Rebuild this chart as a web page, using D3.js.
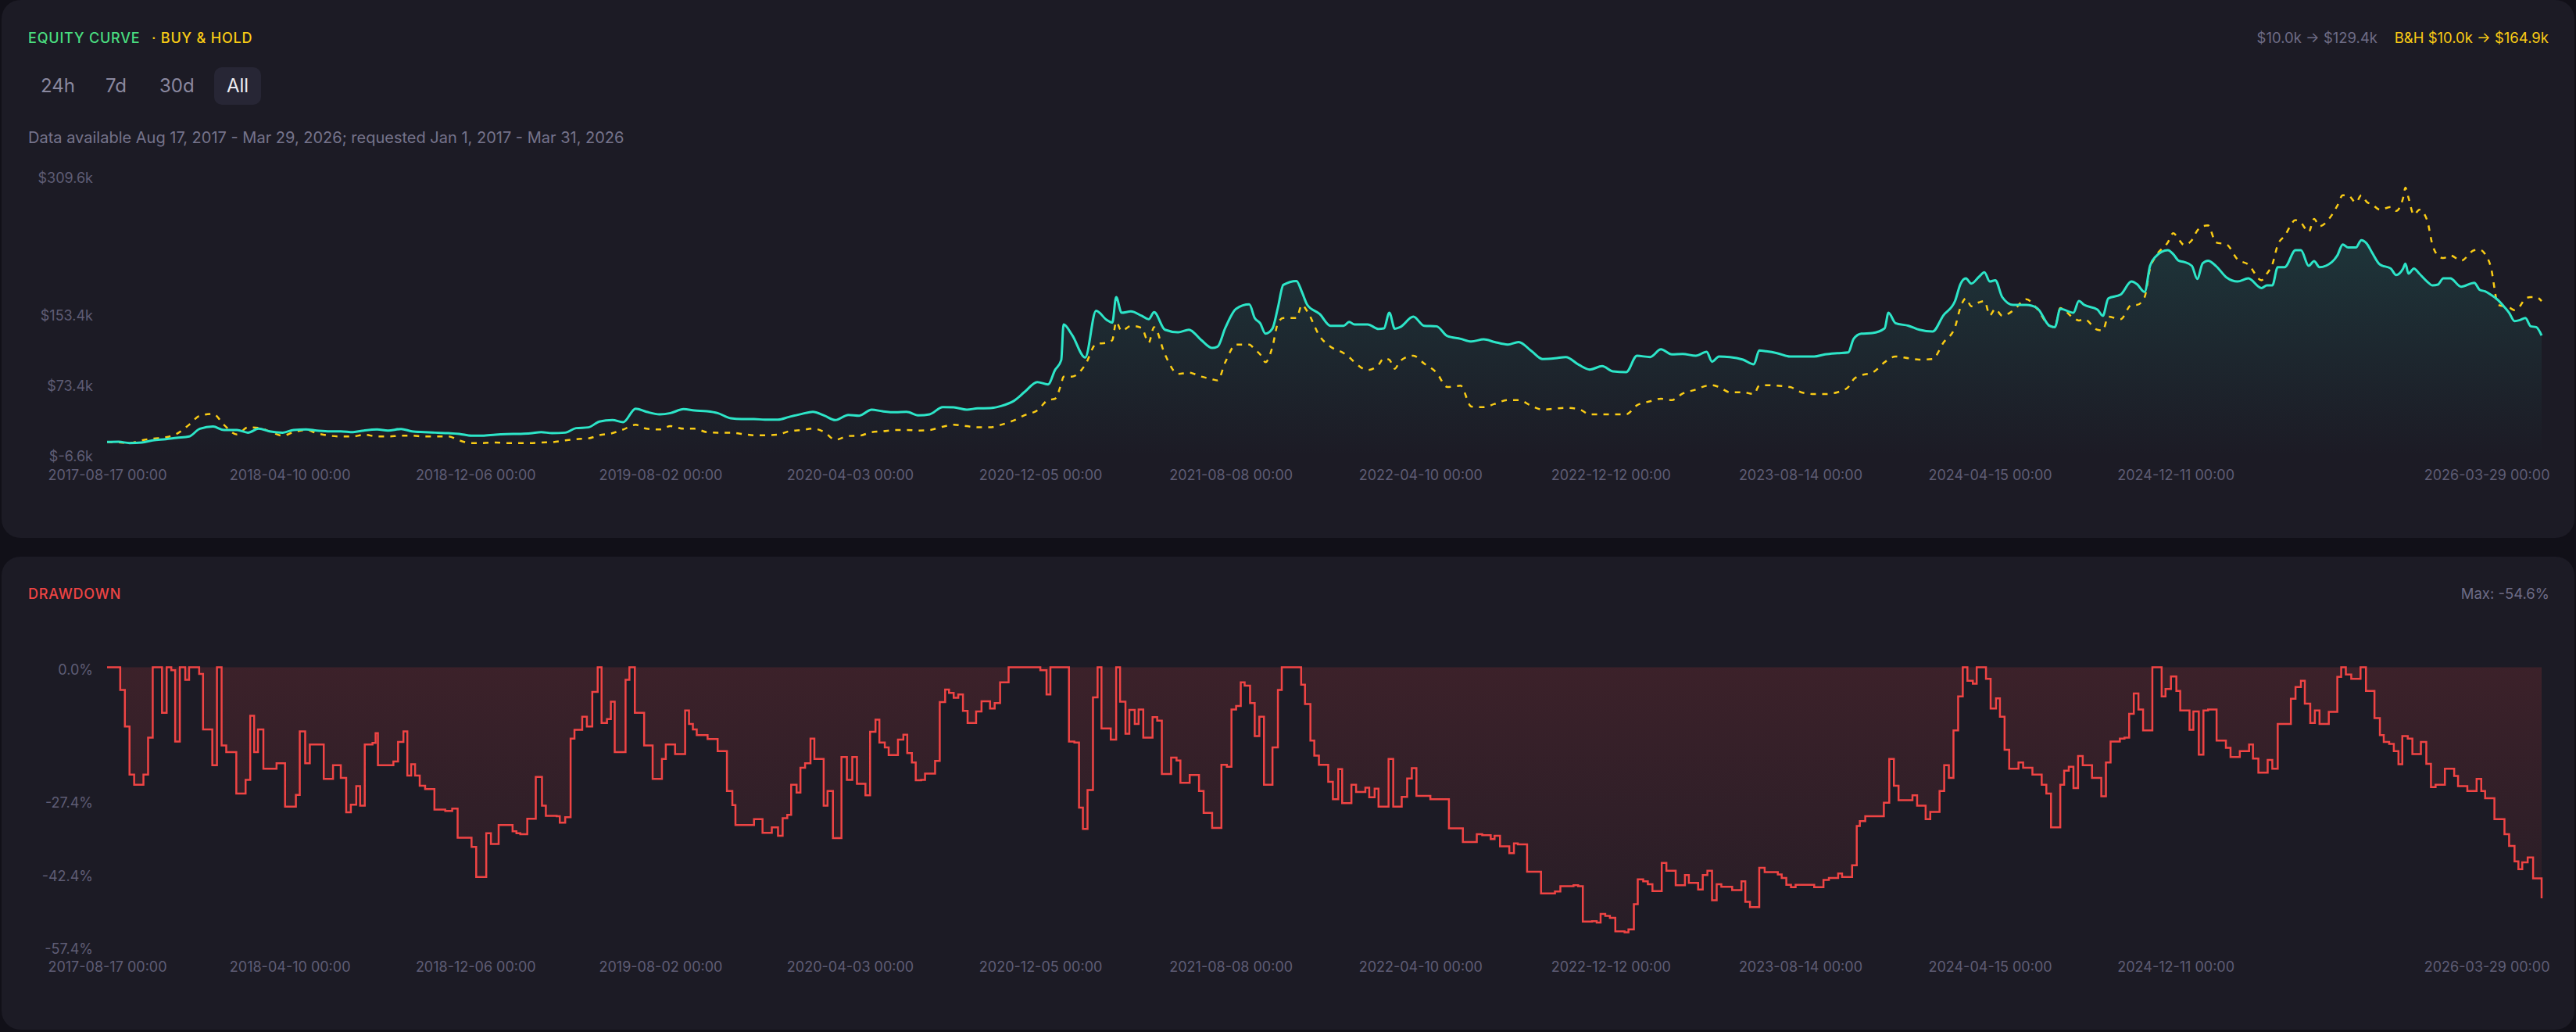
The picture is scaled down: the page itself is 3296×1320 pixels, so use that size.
<!DOCTYPE html>
<html>
<head>
<meta charset="utf-8">
<script src="https://cdn.jsdelivr.net/npm/d3@7"></script>
<style>
  html, body { margin: 0; padding: 0; background: #111018; }
  body { width: 3296px; height: 1320px; overflow: hidden; }
  text { font-family: Inter, "Noto Sans", sans-serif; }
</style>
</head>
<body>
<div id="wrapper"></div>
<script>
// equity curve samples (values in $k)
const equityDates = [
  "2017-08-17","2017-09-01","2017-09-15","2017-10-01","2017-10-15","2017-11-01","2017-11-15","2017-12-01","2017-12-15",
  "2018-01-01","2018-01-15","2018-02-01","2018-02-15","2018-03-01","2018-03-15","2018-04-01","2018-04-15","2018-05-01","2018-05-15","2018-06-01","2018-06-15",
  "2018-07-01","2018-07-15","2018-08-01","2018-08-15","2018-09-01","2018-09-15","2018-10-01","2018-10-15","2018-11-01","2018-11-15","2018-12-01","2018-12-15",
  "2019-01-01","2019-01-15","2019-02-01","2019-02-15","2019-03-01","2019-03-15","2019-04-01","2019-04-15","2019-05-01","2019-05-15","2019-06-01","2019-06-15",
  "2019-07-01","2019-07-15","2019-08-01","2019-08-15","2019-09-01","2019-09-15","2019-10-01","2019-10-15","2019-11-01","2019-11-15","2019-12-01","2019-12-15",
  "2020-01-01","2020-01-15","2020-02-01","2020-02-15","2020-03-01","2020-03-15","2020-04-01","2020-04-15","2020-05-01","2020-05-15","2020-06-01","2020-06-15",
  "2020-07-01","2020-07-15","2020-08-01","2020-08-15","2020-09-01","2020-09-15","2020-10-01","2020-10-15","2020-11-01","2020-11-15","2020-12-01","2020-12-15","2020-12-24",
  "2021-01-01","2021-01-04","2021-01-15","2021-02-01","2021-02-15","2021-03-01","2021-03-08","2021-03-13","2021-03-20","2021-04-01","2021-04-15","2021-04-24",
  "2021-05-01","2021-05-15","2021-06-01","2021-06-15","2021-07-01","2021-07-15","2021-07-22","2021-08-01","2021-08-15","2021-09-01","2021-09-08","2021-09-15",
  "2021-09-22","2021-10-01","2021-10-08","2021-10-15","2021-11-01","2021-11-08","2021-11-15","2021-12-01","2021-12-15",
  "2022-01-01","2022-01-08","2022-01-15","2022-02-01","2022-02-15","2022-02-22","2022-03-01","2022-03-08","2022-03-15","2022-04-01","2022-04-15","2022-05-01",
  "2022-05-15","2022-06-01","2022-06-15","2022-07-01","2022-07-15","2022-08-01","2022-08-15","2022-09-01","2022-09-15","2022-10-01","2022-10-15","2022-11-01",
  "2022-11-15","2022-12-01","2022-12-15",
  "2023-01-01","2023-01-15","2023-02-01","2023-02-15","2023-03-01","2023-03-15","2023-04-01","2023-04-15","2023-04-22","2023-05-01","2023-05-15","2023-06-01",
  "2023-06-15","2023-06-22","2023-07-01","2023-07-15","2023-08-01","2023-08-15","2023-09-01","2023-09-15","2023-10-01","2023-10-15","2023-10-22","2023-11-01",
  "2023-11-15","2023-12-01","2023-12-06","2023-12-15",
  "2024-01-01","2024-01-15","2024-02-01","2024-02-15","2024-03-01","2024-03-08","2024-03-15","2024-03-22","2024-04-01","2024-04-08","2024-04-15","2024-04-22",
  "2024-05-01","2024-05-15","2024-06-01","2024-06-15","2024-07-01","2024-07-08","2024-07-15","2024-08-01","2024-08-08","2024-08-15","2024-09-01","2024-09-08",
  "2024-09-15","2024-10-01","2024-10-15","2024-10-22","2024-11-01","2024-11-08","2024-11-15","2024-12-01","2024-12-08","2024-12-15","2024-12-22",
  "2025-01-01","2025-01-08","2025-01-15","2025-01-22","2025-02-01","2025-02-15","2025-03-01","2025-03-15","2025-04-01","2025-04-08","2025-04-15","2025-04-22",
  "2025-05-01","2025-05-15","2025-05-22","2025-06-01","2025-06-08","2025-06-15","2025-07-01","2025-07-08","2025-07-15","2025-07-22","2025-08-01","2025-08-08",
  "2025-08-15","2025-08-22","2025-09-01","2025-09-15","2025-09-22","2025-10-01","2025-10-04","2025-10-08","2025-10-15","2025-10-22","2025-11-01","2025-11-08",
  "2025-11-15","2025-11-22","2025-12-01","2025-12-15",
  "2026-01-01","2026-01-08","2026-01-15","2026-01-22","2026-02-01","2026-02-08","2026-02-15","2026-02-22","2026-03-01","2026-03-08","2026-03-15","2026-03-22","2026-03-29"
]

const strategyValues = [
  10.0, 10.2, 8.8, 9.4, 11.8, 13.2, 14.7, 16.2, 25.1,
  27.5, 23.6, 23.6, 20.6, 25.1, 22.1, 20.6, 23.6, 24.2, 23.0, 22.1, 22.1,
  21.2, 23.0, 24.2, 23.0, 24.8, 22.1, 21.2, 20.6, 20.0, 19.2, 17.1, 17.1,
  18.3, 18.9, 19.2, 19.8, 21.2, 20.0, 20.6, 25.7, 26.6, 33.1, 34.9, 32.5,
  47.9, 44.3, 41.4, 42.8, 47.3, 45.8, 44.9, 42.8, 36.9, 36.0, 36.0, 35.4,
  35.4, 38.4, 41.9, 44.3, 39.9, 34.9, 40.8, 39.9, 46.7, 44.9, 43.7, 44.3,
  40.2, 41.4, 49.6, 49.4, 46.7, 48.2, 48.5, 50.8, 56.8, 67.1, 78.1, 75.4, 91.7,
  103.0, 143.5, 131.6, 105.9, 159.0, 148.5, 145.6, 174.6, 156.8, 158.3, 153.3, 149.4,
  157.4, 137.5, 134.6, 137.5, 125.7, 116.8, 118.3, 139.6, 161.3, 166.3, 150.9, 145.0,
  133.1, 139.0, 162.8, 188.5, 192.9, 180.5, 165.7, 155.4, 142.0,
  142.0, 146.4, 143.5, 143.5, 138.4, 139.0, 156.8, 138.7, 140.5, 152.4, 142.0, 141.4,
  130.2, 127.2, 124.2, 126.6, 123.6, 120.7, 123.6, 113.0, 104.2, 105.0, 106.5, 97.6,
  92.3, 96.1, 90.2,
  89.3, 107.9, 106.5, 115.3, 109.5, 110.0, 107.9, 112.4, 101.2, 107.1, 106.5, 103.5,
  98.2, 113.9, 113.0, 110.9, 107.1, 107.1, 107.1, 109.5, 110.9, 111.8, 127.2, 133.1,
  133.7, 139.0, 156.8, 145.0,
  142.0, 137.5, 135.5, 153.9, 170.1, 189.4, 195.9, 190.0, 197.7, 202.7, 192.3, 193.8,
  174.6, 165.7, 165.7, 162.2, 142.0, 140.5, 161.3, 156.8, 170.1, 165.7, 160.4, 153.3,
  173.1, 177.5, 192.3, 189.4, 180.5, 210.1, 220.4, 227.9, 223.4, 216.0, 214.5,
  210.1, 195.3, 213.0, 216.0, 210.1, 196.8, 192.3, 195.9, 184.9, 187.9, 187.9, 208.6,
  208.6, 227.9, 227.9, 210.1, 215.4, 208.6, 214.5, 221.9, 234.4, 230.9, 230.9, 239.2,
  235.4, 225.0, 211.6, 207.1, 199.7, 207.1, 212.5, 201.2, 207.1, 201.2, 192.3, 187.9,
  188.8, 195.9, 195.9, 186.4,
  190.8, 182.8, 181.1, 177.5, 171.0, 164.2, 156.8, 147.3, 148.5, 150.9, 141.4, 140.5, 131.0
]

const buyHoldValues = [
  10.0, 9.6, 8.8, 11.8, 13.8, 15.3, 19.2, 29.5, 39.9,
  42.0, 29.5, 18.5, 26.6, 26.0, 22.1, 17.1, 21.2, 23.6, 20.0, 17.1, 16.2,
  16.2, 18.3, 16.2, 16.2, 17.1, 17.1, 16.2, 16.2, 16.2, 11.8, 8.8, 8.8,
  9.4, 8.8, 8.8, 8.8, 9.4, 9.7, 11.8, 13.2, 14.1, 17.7, 20.0, 24.2,
  29.5, 25.1, 24.2, 28.0, 25.1, 25.1, 21.2, 20.6, 20.6, 19.2, 17.7, 17.7,
  18.3, 22.1, 23.6, 25.1, 21.2, 12.4, 16.8, 17.1, 21.2, 22.1, 23.6, 23.6,
  23.0, 23.6, 27.4, 29.5, 28.0, 26.6, 26.6, 29.5, 34.6, 40.5, 45.8, 57.6, 59.1,
  76.0, 84.3, 84.3, 97.6, 121.3, 122.8, 125.7, 146.4, 136.0, 142.0, 139.6, 122.8,
  140.5, 109.5, 87.3, 88.7, 84.3, 81.3, 79.9, 100.6, 120.7, 120.7, 115.3, 109.5,
  100.6, 118.3, 145.0, 150.9, 150.9, 165.7, 158.3, 130.2, 118.3,
  110.9, 106.5, 100.6, 91.7, 97.6, 105.0, 103.5, 93.2, 102.0, 108.0, 99.1, 88.7,
  72.4, 73.9, 50.2, 49.6, 53.2, 57.6, 57.6, 50.8, 46.7, 47.9, 48.8, 47.3,
  41.4, 41.4, 41.4,
  41.4, 51.7, 56.2, 59.1, 57.6, 65.0, 69.5, 73.9, 74.5, 72.4, 66.5, 66.5,
  64.4, 73.9, 74.5, 73.9, 72.4, 66.5, 64.4, 64.4, 66.5, 72.4, 81.3, 85.8,
  88.7, 100.6, 104.0, 107.1,
  105.0, 103.5, 104.2, 122.8, 140.5, 162.8, 173.1, 164.2, 168.6, 170.1, 153.9, 161.3,
  153.3, 159.2, 172.2, 161.3, 142.0, 140.5, 162.2, 150.9, 148.0, 149.4, 137.5, 136.7,
  152.4, 149.4, 165.7, 165.7, 174.6, 207.1, 220.4, 236.7, 247.1, 240.3, 233.8,
  239.2, 250.1, 255.1, 256.0, 236.7, 234.4, 217.5, 211.6, 193.8, 201.2, 211.6, 233.8,
  244.2, 262.0, 259.0, 248.6, 263.4, 255.1, 268.0, 278.4, 290.2, 290.2, 281.9, 290.2,
  282.8, 279.8, 273.9, 276.9, 272.5, 287.2, 298.9, 287.2, 268.0, 273.9, 262.0, 233.8,
  221.9, 218.9, 221.9, 216.0,
  227.9, 228.5, 223.4, 210.1, 165.7, 164.2, 162.8, 159.8, 164.2, 173.1, 174.6, 174.6, 170.0
]

// drawdown steps: days since 2017-08-17 and drawdown (%)
const ddDayOffsets = [
  0, 17, 23, 29, 35, 47, 53, 59, 71, 77, 83, 88, 94, 101, 106, 119, 124, 136, 142, 148, 154, 167, 179, 185, 190, 195, 202, 219, 230, 244,
  249, 256, 262, 280, 292, 302, 309, 315, 322, 327, 333, 343, 347, 350, 370, 376, 383, 388, 393, 398, 404, 411, 423, 437, 446, 453, 471, 477, 490, 496,
  506, 524, 529, 534, 543, 554, 562, 567, 581, 585, 592, 599, 604, 614, 620, 627, 634, 639, 646, 651, 656, 670, 675, 682, 694, 705, 717, 722, 734, 747,
  752, 757, 762, 776, 789, 801, 808, 812, 836, 847, 859, 867, 873, 879, 884, 891, 896, 902, 909, 914, 926, 931, 938, 949, 956, 963, 969, 980, 986, 993,
  998, 1005, 1010, 1022, 1029, 1034, 1040, 1045, 1052, 1057, 1070, 1076, 1083, 1088, 1094, 1100, 1106, 1112, 1123, 1130, 1141, 1147, 1154, 1165, 1206, 1214, 1219, 1243, 1250, 1256,
  1261, 1267, 1274, 1280, 1285, 1297, 1304, 1309, 1316, 1321, 1328, 1333, 1339, 1351, 1357, 1363, 1375, 1382, 1387, 1399, 1411, 1417, 1428, 1440, 1447, 1453, 1459, 1465, 1470, 1477,
  1483, 1489, 1495, 1506, 1513, 1518, 1543, 1548, 1555, 1560, 1566, 1578, 1584, 1591, 1596, 1608, 1614, 1626, 1631, 1638, 1643, 1656, 1662, 1673, 1680, 1686, 1692, 1710, 1734, 1752,
  1770, 1777, 1788, 1793, 1800, 1812, 1818, 1823, 1835, 1853, 1871, 1878, 1895, 1901, 1907, 1919, 1925, 1930, 1936, 1942, 1949, 1961, 1966, 1973, 1978, 1985, 1991, 1997, 2009, 2015,
  2027, 2039, 2044, 2056, 2062, 2068, 2074, 2080, 2086, 2100, 2112, 2117, 2123, 2135, 2142, 2159, 2164, 2170, 2176, 2182, 2206, 2218, 2225, 2237, 2242, 2255, 2261, 2265, 2272, 2296,
  2303, 2309, 2315, 2333, 2339, 2350, 2356, 2368, 2374, 2380, 2386, 2392, 2398, 2404, 2411, 2416, 2428, 2434, 2441, 2446, 2452, 2458, 2470, 2476, 2488, 2500, 2506, 2512, 2524, 2529,
  2535, 2541, 2547, 2553, 2565, 2577, 2583, 2589, 2601, 2607, 2613, 2619, 2625, 2631, 2643, 2655, 2660, 2667, 2674, 2679, 2691, 2696, 2703, 2709, 2715, 2726, 2738, 2744, 2756, 2768,
  2773, 2780, 2792, 2798, 2805, 2822, 2828, 2835, 2840, 2847, 2853, 2859, 2871, 2882, 2887, 2893, 2900, 2912, 2919, 2930, 2937, 2942, 2949, 2955, 2961, 2966, 2973, 2979, 2990, 2997,
  3003, 3009, 3021, 3033, 3038, 3050, 3062, 3068, 3073, 3085, 3098, 3104, 3111, 3116, 3121, 3128, 3135, 3146
]

const ddValues = [
  0, -4.7, -12.2, -22.1, -24.2, -22.1, -14.5, 0, -9.4, 0, -0.6, -15.3, 0, -2.6, 0, -1.4, -12.8, -20.2, 0, -16.1, -17.5, -26, -23.2, -10, -17.5, -12.8, -20.9, -19.8, -28.7, -26.3,
  -13.2, -19.8, -15.9, -23, -20.2, -22.8, -29.9, -28.3, -24.5, -28.5, -15.9, -15.6, -13.6, -20.2, -19.4, -15.4, -13.2, -22.3, -20, -22.3, -24.4, -25.1, -29.3, -29.6, -29.1, -35.1, -37, -43.2, -34.2, -36.4,
  -32.5, -33.8, -34.2, -34.4, -31.2, -22.6, -28.5, -30.6, -30.7, -32, -30.9, -14.7, -12.9, -10.2, -12.2, -5.1, 0, -11.5, -10.7, -7.1, -17.5, -2.6, 0, -9.4, -16.1, -23, -18.9, -15.9, -17.9, -8.9,
  -11.7, -12.8, -14, -14.8, -17.3, -25.5, -28.4, -32.5, -31.3, -34.1, -33, -34.7, -31.1, -30.4, -24.2, -25.8, -20.7, -19.8, -14.7, -18.9, -28.5, -25.5, -35.2, -18.5, -23.2, -18.5, -24, -26.4, -13.3, -10.8,
  -15.5, -16.5, -18.1, -14.9, -13.9, -17.7, -19.6, -23.3, -23.2, -21.9, -19.3, -7.2, -4.6, -5.3, -6.3, -5.6, -9, -11.5, -9.1, -7, -8.5, -7.4, -3.1, 0, -0.6, -5.6, 0, -15.3, -15.5, -28.9,
  -33.3, -25.3, -6.2, 0, -12.6, -14.9, 0, -7.1, -13.7, -8.8, -11.7, -8.7, -14.5, -10.3, -11, -22, -18.6, -19.2, -23.8, -22.2, -25.5, -30, -33.1, -20.1, -20.5, -8.7, -8, -3.1, -3.8, -7.4,
  -14.2, -10.2, -24.2, -16.5, -4.7, 0, -3.6, -7.6, -15.1, -18.2, -20.1, -23.6, -27.2, -21, -28, -24.2, -25.7, -24.8, -26.8, -25, -28.7, -18.9, -28.7, -26.7, -22.9, -20.8, -26.5, -27.2, -33.2, -36,
  -34.4, -34.6, -35.4, -34.7, -36.9, -38.3, -36.3, -36.5, -42.1, -46.6, -46.2, -45.1, -44.9, -45.1, -52.4, -52.3, -52.6, -50.8, -51.2, -51.6, -54.4, -54.6, -54, -48.8, -43.7, -44.1, -44.7, -46.1, -40.3, -41.9,
  -44.9, -42.8, -44.4, -45.8, -42.8, -41.9, -48, -44.7, -45.2, -45.9, -44.1, -48.3, -49.4, -41.3, -42.2, -42.7, -43.4, -44.8, -45.3, -44.8, -45.3, -43.8, -43.4, -42.5, -43.2, -40.8, -32.7, -31.7, -30.7, -27.9,
  -18.9, -24.4, -27.4, -26.4, -28.5, -31.3, -29.8, -25.5, -20.2, -22.8, -13, -6, 0, -2.8, -3.4, 0, -2.4, -8.5, -6.4, -10.2, -17, -20.9, -19.6, -20.7, -22.1, -24.2, -26, -33, -24.2, -21.3,
  -20.5, -24.9, -18.3, -20.2, -22.8, -26.6, -19.6, -15.3, -14.7, -14.5, -9.6, -5.4, -8.7, -13, 0, -6, -4.5, -1.9, -4.9, -8.9, -12.9, -9.1, -18, -8.9, -8.7, -15.1, -16.6, -18.5, -17.3, -15.9,
  -18.8, -21.7, -19.1, -20.9, -11.7, -6.5, -4.1, -2.8, -7.5, -11.5, -8.9, -11.7, -9.2, -2, 0, -1.5, -2.4, 0, -4.9, -10.5, -14, -15.4, -15.8, -17.3, -20, -14.2, -14.7, -17.9, -15.4, -19.9,
  -24.7, -24.2, -20.9, -22.4, -24.5, -25.5, -23, -25.5, -27, -31.3, -34.4, -36.8, -40, -41.6, -40.2, -39.2, -43.5, -47.6
]

// axis ticks
const xTickDates = ["2017-08-17","2018-04-10","2018-12-06","2019-08-02","2020-04-03","2020-12-05",
  "2021-08-08","2022-04-10","2022-12-12","2023-08-14","2024-04-15","2024-12-11","2026-03-29"]
const equityTicks = [-6.6, 73.4, 153.4, 309.6]
const ddTicks = [0, -27.4, -42.4, -57.4]
const rangeButtons = ["24h", "7d", "30d", "All"]

function drawCharts() {
  const parseDate = d3.timeParse("%Y-%m-%d")
  const startDate = parseDate("2017-08-17")
  const endDate = parseDate("2026-03-29")

  // accessors
  const xAccessor = d => d.date
  const yAccessor = d => d.value

  const equity = equityDates.map((d, i) => ({ date: parseDate(d), value: strategyValues[i] }))
  const buyHold = equityDates.map((d, i) => ({ date: parseDate(d), value: buyHoldValues[i] }))
  const drawdown = ddDayOffsets.map((d, i) => ({ date: d3.timeDay.offset(startDate, d), value: ddValues[i] }))

  let dimensions = {
    width: 3296,
    height: 1320,
    plotLeft: 137,
    plotWidth: 3115,
    equity: { top: 228, height: 356 },
    dd: { top: 853.4, height: 356.5 },
  }

  const colors = {
    page: "#111018",
    card: "#1c1b25",
    teal: "#2de5c8",
    gold: "#facc15",
    green: "#4ade80",
    red: "#ef4444",
    tick: "#5f5d75",
    muted: "#6e6c86",
  }

  const wrapper = d3.select("#wrapper")
    .append("svg")
      .attr("width", dimensions.width)
      .attr("height", dimensions.height)

  wrapper.append("rect")
      .attr("width", dimensions.width)
      .attr("height", dimensions.height)
      .attr("fill", colors.page)

  // the two cards
  wrapper.append("rect")
      .attr("x", 2).attr("y", 0)
      .attr("width", 3292).attr("height", 688)
      .attr("rx", 24)
      .attr("fill", colors.card)
  wrapper.append("rect")
      .attr("x", 2).attr("y", 712)
      .attr("width", 3292).attr("height", 605)
      .attr("rx", 24)
      .attr("fill", colors.card)

  const defs = wrapper.append("defs")
  const tealGrad = defs.append("linearGradient")
      .attr("id", "tealFill")
      .attr("gradientUnits", "userSpaceOnUse")
      .attr("x1", 0).attr("x2", 0)
      .attr("y1", 0).attr("y2", dimensions.equity.height)
  tealGrad.append("stop").attr("offset", 0).attr("stop-color", colors.teal).attr("stop-opacity", 0.16)
  tealGrad.append("stop").attr("offset", 1).attr("stop-color", colors.teal).attr("stop-opacity", 0)

  const redGrad = defs.append("linearGradient")
      .attr("id", "redFill")
      .attr("gradientUnits", "userSpaceOnUse")
      .attr("x1", 0).attr("x2", 0)
      .attr("y1", 0).attr("y2", dimensions.dd.height)
  redGrad.append("stop").attr("offset", 0).attr("stop-color", colors.red).attr("stop-opacity", 0.15)
  redGrad.append("stop").attr("offset", 1).attr("stop-color", colors.red).attr("stop-opacity", 0.05)

  // header of the top card
  const header = wrapper.append("g")
  header.append("text")
      .attr("x", 36).attr("y", 54.5)
      .attr("fill", colors.green)
      .style("font-size", "18px").style("font-weight", 500)
      .style("letter-spacing", "0.8px")
      .text("EQUITY CURVE")
  header.append("text")
      .attr("x", 194).attr("y", 54.5)
      .attr("fill", colors.gold)
      .style("font-size", "18px").style("font-weight", 500)
      .style("letter-spacing", "0.8px")
      .text("· BUY & HOLD")
  header.append("text")
      .attr("x", 3261).attr("y", 55)
      .attr("text-anchor", "end")
      .attr("fill", colors.gold)
      .style("font-size", "18.5px")
      .text("B&H $10.0k → $164.9k")
  header.append("text")
      .attr("x", 3042).attr("y", 55)
      .attr("text-anchor", "end")
      .attr("fill", colors.muted)
      .style("font-size", "18.5px")
      .text("$10.0k → $129.4k")

  // range buttons
  const buttonX = [52, 135, 204, 290]
  header.append("rect")
      .attr("x", 274).attr("y", 86)
      .attr("width", 60).attr("height", 48)
      .attr("rx", 10)
      .attr("fill", "#272635")
  header.selectAll(".range")
      .data(rangeButtons)
    .enter().append("text")
      .attr("x", (d, i) => buttonX[i])
      .attr("y", 118)
      .attr("fill", d => d == "All" ? "#ececf2" : "#8a889f")
      .style("font-size", "24px")
      .text(d => d)

  header.append("text")
      .attr("x", 36).attr("y", 182.5)
      .attr("fill", "#75738b")
      .style("font-size", "20px")
      .text("Data available Aug 17, 2017 - Mar 29, 2026; requested Jan 1, 2017 - Mar 31, 2026")

  // drawdown card header
  wrapper.append("text")
      .attr("x", 36).attr("y", 765.5)
      .attr("fill", colors.red)
      .style("font-size", "18px").style("font-weight", 500)
      .style("letter-spacing", "0.8px")
      .text("DRAWDOWN")
  wrapper.append("text")
      .attr("x", 3262).attr("y", 766)
      .attr("text-anchor", "end")
      .attr("fill", colors.muted)
      .style("font-size", "18.5px")
      .text("Max: -54.6%")

  // scales
  const xScale = d3.scaleTime()
      .domain([startDate, endDate])
      .range([0, dimensions.plotWidth])

  const yEquity = d3.scaleLinear()
      .domain([equityTicks[0], equityTicks[equityTicks.length - 1]])
      .range([dimensions.equity.height, 0])

  const yDD = d3.scaleLinear()
      .domain([ddTicks[ddTicks.length - 1], 0])
      .range([dimensions.dd.height, 0])

  const xTicks = xTickDates.map(parseDate)
  const timeFormat = d3.timeFormat("%Y-%m-%d %H:%M")

  function styleXAxis(g) {
    g.select(".domain").remove()
    g.selectAll("text")
        .attr("fill", colors.tick)
        .attr("font-family", "Inter, 'Noto Sans', sans-serif")
        .style("font-size", "18px")
    // last label stays inside the card
    g.selectAll(".tick:last-of-type text")
        .attr("text-anchor", "end")
        .attr("x", 10)
  }

  // ---- equity chart ----
  const eqBounds = wrapper.append("g")
      .style("transform", `translate(${dimensions.plotLeft}px, ${dimensions.equity.top}px)`)

  const tealArea = d3.area()
      .x(d => xScale(xAccessor(d)))
      .y0(dimensions.equity.height)
      .y1(d => yEquity(yAccessor(d)))
      .curve(d3.curveMonotoneX)

  eqBounds.append("path")
      .attr("d", tealArea(equity))
      .attr("fill", "url(#tealFill)")

  const eqLine = d3.line()
      .x(d => xScale(xAccessor(d)))
      .y(d => yEquity(yAccessor(d)))
      .curve(d3.curveMonotoneX)

  eqBounds.append("path")
      .attr("d", eqLine(buyHold))
      .attr("fill", "none")
      .attr("stroke", colors.gold)
      .attr("stroke-width", 2.5)
      .attr("stroke-dasharray", "7,8")

  eqBounds.append("path")
      .attr("d", eqLine(equity))
      .attr("fill", "none")
      .attr("stroke", colors.teal)
      .attr("stroke-width", 3)
      .attr("stroke-linejoin", "round")

  const eqYAxis = eqBounds.append("g")
      .call(d3.axisLeft(yEquity)
        .tickValues(equityTicks)
        .tickSize(0)
        .tickPadding(18)
        .tickFormat(d => `$${d.toFixed(1)}k`))
  eqYAxis.select(".domain").remove()
  eqYAxis.selectAll("text")
      .attr("fill", colors.tick)
      .attr("font-family", "Inter, 'Noto Sans', sans-serif")
      .style("font-size", "18px")

  eqBounds.append("g")
      .style("transform", `translateY(${dimensions.equity.height}px)`)
      .call(d3.axisBottom(xScale)
        .tickValues(xTicks)
        .tickSize(0)
        .tickPadding(17)
        .tickFormat(timeFormat))
      .call(styleXAxis)

  // ---- drawdown chart ----
  const ddBounds = wrapper.append("g")
      .style("transform", `translate(${dimensions.plotLeft}px, ${dimensions.dd.top}px)`)

  const ddArea = d3.area()
      .x(d => xScale(xAccessor(d)))
      .y0(yDD(0))
      .y1(d => yDD(yAccessor(d)))
      .curve(d3.curveStepAfter)

  ddBounds.append("path")
      .attr("d", ddArea(drawdown))
      .attr("fill", "url(#redFill)")

  const ddLine = d3.line()
      .x(d => xScale(xAccessor(d)))
      .y(d => yDD(yAccessor(d)))
      .curve(d3.curveStepAfter)

  ddBounds.append("path")
      .attr("d", ddLine(drawdown))
      .attr("fill", "none")
      .attr("stroke", colors.red)
      .attr("stroke-width", 2.5)

  const ddYAxis = ddBounds.append("g")
      .call(d3.axisLeft(yDD)
        .tickValues(ddTicks)
        .tickSize(0)
        .tickPadding(18)
        .tickFormat(d => `${d.toFixed(1)}%`))
  ddYAxis.select(".domain").remove()
  ddYAxis.selectAll("text")
      .attr("fill", colors.tick)
      .attr("font-family", "Inter, 'Noto Sans', sans-serif")
      .attr("dy", "0.52em")
      .style("font-size", "18px")

  ddBounds.append("g")
      .style("transform", `translateY(${dimensions.dd.height}px)`)
      .call(d3.axisBottom(xScale)
        .tickValues(xTicks)
        .tickSize(0)
        .tickPadding(20.5)
        .tickFormat(timeFormat))
      .call(styleXAxis)
}
drawCharts()
</script>
</body>
</html>
